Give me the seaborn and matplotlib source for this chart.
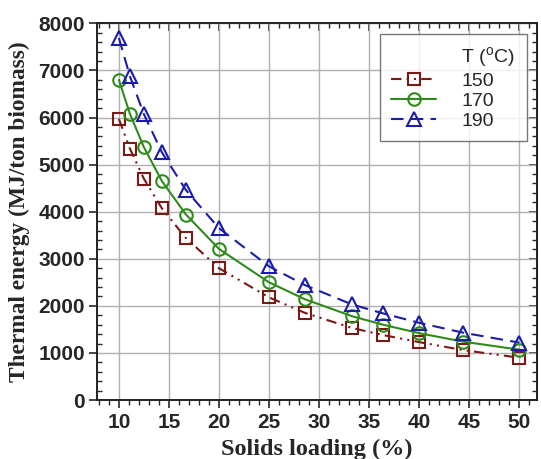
import numpy as np
import pandas as pd
import matplotlib
matplotlib.use("Agg")
import matplotlib.pyplot as plt
from matplotlib.lines import Line2D
from matplotlib.ticker import MultipleLocator
import seaborn as sns

# --- data ---
solids = [10, 11.1, 12.5, 14.3, 16.7, 20, 25, 28.6, 33.3, 36.4, 40, 44.4, 50]
energy_150 = [5970, 5340, 4700, 4070, 3440, 2800, 2180, 1850, 1530, 1380, 1230, 1060, 900]
energy_170 = [6800, 6080, 5370, 4650, 3940, 3210, 2500, 2140, 1780, 1600, 1420, 1240, 1070]
energy_190 = [7690, 6880, 6070, 5260, 4460, 3650, 2840, 2440, 2030, 1840, 1640, 1430, 1220]
temps = ["150", "170", "190"]

df = pd.DataFrame({
    "solids": solids * 3,
    "energy": energy_150 + energy_170 + energy_190,
    "T": [t for t in temps for _ in solids],
})

colors = {"150": "#7a1a14", "170": "#2f8a1c", "190": "#1c1caa"}
markers = {"150": "s", "170": "o", "190": "^"}
msizes = {"150": 8, "170": 9, "190": 10}
lstyles = {"150": (0, (5, 2.5, 1, 2.5, 1, 2.5)), "170": "-", "190": (0, (6, 3.5))}

sns.set_style("ticks")
plt.rcParams["font.family"] = ["Liberation Sans", "DejaVu Sans"]
plt.rcParams["mathtext.fontset"] = "custom"
plt.rcParams["mathtext.rm"] = "Liberation Sans"

fig = plt.figure(figsize=(5.41, 4.59), dpi=100)
ax = fig.add_axes([0.180, 0.1285, 0.812, 0.8205])

for t in temps:
    sub = df[df["T"] == t]
    sns.lineplot(data=sub, x="solids", y="energy", ax=ax, color=colors[t],
                 linestyle=lstyles[t], lw=1.5, marker=markers[t], ms=msizes[t],
                 mfc="none", mec=colors[t], mew=1.5, legend=False, zorder=3)

ax.set_xlim(7.85, 51.75)
ax.set_ylim(0, 8000)
ax.xaxis.set_major_locator(MultipleLocator(5))
ax.xaxis.set_minor_locator(MultipleLocator(1))
ax.yaxis.set_major_locator(MultipleLocator(1000))
ax.yaxis.set_minor_locator(MultipleLocator(200))
ax.set_xticks(range(10, 51, 5))
ax.grid(True, which="major", color="#b0b0b0", lw=1.0, zorder=0)
ax.set_axisbelow(True)

for s in ax.spines.values():
    s.set_linewidth(1.4)
    s.set_color("#222222")

ax.tick_params(axis="both", which="major", direction="out", length=6, width=1.2,
               labelsize=15, pad=3)
ax.tick_params(axis="x", which="minor", direction="out", length=3.5, width=1.0)
ax.tick_params(axis="y", which="minor", direction="in", length=3.5, width=1.0)
for lab in ax.get_xticklabels() + ax.get_yticklabels():
    lab.set_fontweight("bold")

# inward ticks on top and right
top = ax.secondary_xaxis("top")
top.xaxis.set_major_locator(MultipleLocator(5))
top.xaxis.set_minor_locator(MultipleLocator(1))
top.tick_params(which="major", direction="in", length=6, width=1.2, labeltop=False)
top.tick_params(which="minor", direction="in", length=3.5, width=1.0)
right = ax.secondary_yaxis("right")
right.yaxis.set_major_locator(MultipleLocator(1000))
right.yaxis.set_minor_locator(MultipleLocator(200))
right.tick_params(which="major", direction="in", length=6, width=1.2, labelright=False)
right.tick_params(which="minor", direction="in", length=3.5, width=1.0)

ax.set_xlabel("Solids loading (%)", family=["Liberation Serif"], fontweight="bold",
              fontsize=17.5, labelpad=5)
ax.set_ylabel("Thermal energy (MJ/ton biomass)", family=["Liberation Serif"],
              fontweight="bold", fontsize=16.8, labelpad=6)

# legend: first row holds the "T (oC)" heading with an empty handle
handles = [Line2D([], [], linestyle="none")]
handles += [Line2D([], [], color=colors[t], linestyle=lstyles[t], lw=1.5,
                   marker=markers[t], ms=msizes[t], mfc="none", mew=1.5) for t in temps]
labels = ["T ($^{\\rm o}$C)"] + temps
leg = ax.legend(handles, labels, loc="upper right", bbox_to_anchor=(0.977, 0.973),
                borderaxespad=0, fontsize=14, frameon=True, fancybox=False,
                edgecolor="#555555", handlelength=2.3, labelspacing=0.12,
                borderpad=0.6, handletextpad=1.3)
leg.get_frame().set_linewidth(1.0)

fig.savefig("out.png", dpi=100)
